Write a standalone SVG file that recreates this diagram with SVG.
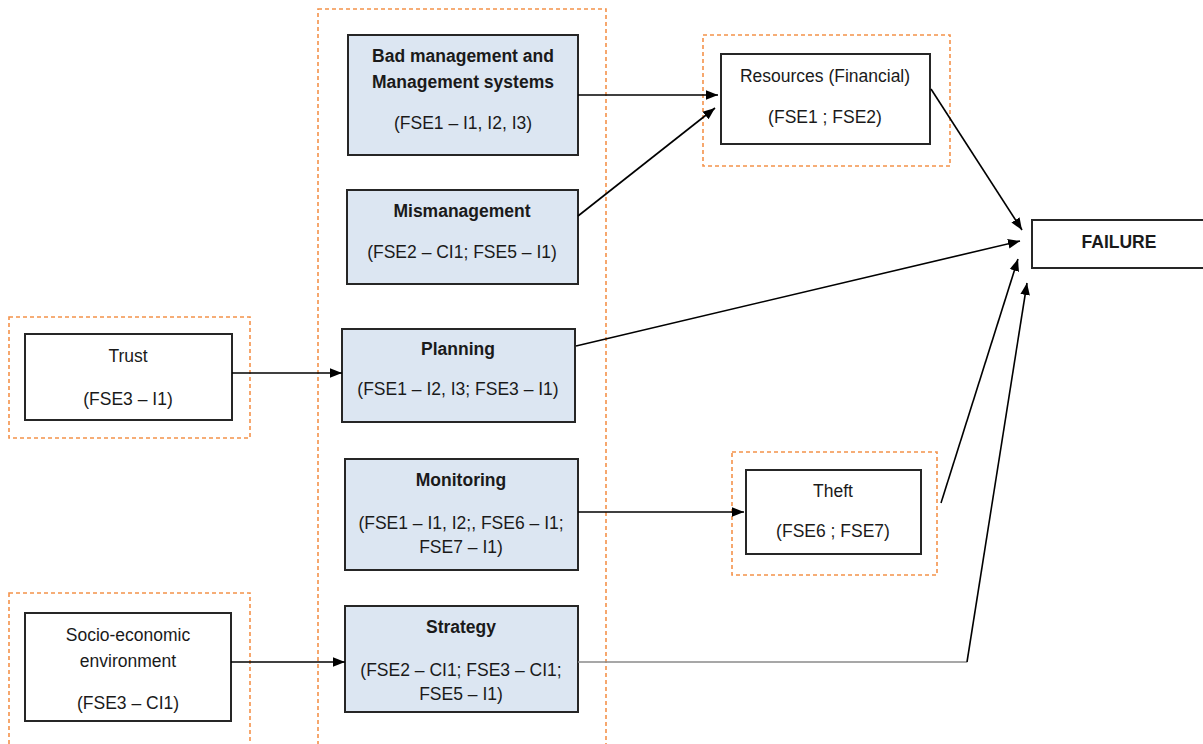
<svg xmlns="http://www.w3.org/2000/svg" width="1203" height="744" viewBox="0 0 1203 744">
<style>
.grp{fill:none;stroke:#f4924a;stroke-width:1.6;stroke-dasharray:4 3}
.blue{fill:#dce6f2;stroke:#262626;stroke-width:2}
.white{fill:#fff;stroke:#262626;stroke-width:2}
text{font-family:"Liberation Sans",Arial,sans-serif;font-size:17.5px;fill:#1a1a1a;text-anchor:middle}
.b{font-weight:bold}
.c{fill:none;stroke:#000;stroke-width:1.6}
.g{fill:none;stroke:#8a8a8a;stroke-width:1.6}
</style>
<defs>
<marker id="ah2" viewBox="0 0 10 10" refX="10" refY="5" markerWidth="12" markerHeight="12" orient="auto" markerUnits="userSpaceOnUse">
<path d="M0,1 L10,5 L0,9 z" fill="#000"/>
</marker>
</defs>
<rect width="1203" height="744" fill="#fff"/>
<g id="column"><rect class="grp" x="318" y="9" width="288" height="745"/></g>
<g id="bad">
<rect class="blue" x="348" y="35" width="230" height="120"/>
<text class="b" x="463" y="62">Bad management and</text>
<text class="b" x="463" y="88">Management systems</text>
<text x="463" y="129">(FSE1 – I1, I2, I3)</text>
</g>
<g id="mis">
<rect class="blue" x="347" y="190" width="231" height="94"/>
<text class="b" x="462" y="217">Mismanagement</text>
<text x="462" y="258">(FSE2 – CI1; FSE5 – I1)</text>
</g>
<g id="planning">
<rect class="blue" x="342" y="329" width="233" height="93"/>
<text class="b" x="458" y="355">Planning</text>
<text x="458" y="395">(FSE1 – I2, I3; FSE3 – I1)</text>
</g>
<g id="monitoring">
<rect class="blue" x="345" y="459" width="233" height="111"/>
<text class="b" x="461" y="486">Monitoring</text>
<text x="461" y="529">(FSE1 – I1, I2;, FSE6 – I1;</text>
<text x="461" y="553">FSE7 – I1)</text>
</g>
<g id="strategy">
<rect class="blue" x="345" y="606" width="233" height="106"/>
<text class="b" x="461" y="633">Strategy</text>
<text x="461" y="676">(FSE2 – CI1; FSE3 – CI1;</text>
<text x="461" y="700">FSE5 – I1)</text>
</g>
<g id="resources">
<rect class="grp" x="703" y="35" width="247" height="131"/>
<rect class="white" x="721" y="54" width="209" height="90"/>
<text x="825" y="82">Resources (Financial)</text>
<text x="825" y="123">(FSE1 ; FSE2)</text>
</g>
<g id="failure">
<rect class="white" x="1032" y="220" width="172" height="48"/>
<text class="b" x="1119" y="248">FAILURE</text>
</g>
<g id="trust">
<rect class="grp" x="9" y="317" width="241" height="121"/>
<rect class="white" x="25" y="334" width="207" height="86"/>
<text x="128" y="362">Trust</text>
<text x="128" y="405">(FSE3 – I1)</text>
</g>
<g id="theft">
<rect class="grp" x="732" y="452" width="205" height="123"/>
<rect class="white" x="746" y="470" width="175" height="84"/>
<text x="833" y="497">Theft</text>
<text x="833" y="537">(FSE6 ; FSE7)</text>
</g>
<g id="socio">
<rect class="grp" x="9" y="593" width="241" height="160"/>
<rect class="white" x="25" y="613" width="206" height="108"/>
<text x="128" y="641">Socio-economic</text>
<text x="128" y="667">environment</text>
<text x="128" y="709">(FSE3 – CI1)</text>
</g>
<g id="connectors">
<path class="c" d="M578,95 L718,95" marker-end="url(#ah2)"/>
<path class="c" d="M578,216 L715,108" marker-end="url(#ah2)"/>
<path class="c" d="M576,346 L1020,241" marker-end="url(#ah2)"/>
<path class="c" d="M931,89 L1022,230" marker-end="url(#ah2)"/>
<path class="c" d="M578,512 L744,512" marker-end="url(#ah2)"/>
<path class="c" d="M941,503 L1018,259" marker-end="url(#ah2)"/>
<path class="g" d="M578,662 L967,662"/>
<path class="c" d="M967,662 L1027,283" marker-end="url(#ah2)"/>
<path class="c" d="M232,373 L342,373" marker-end="url(#ah2)"/>
<path class="c" d="M231,662 L345,662" marker-end="url(#ah2)"/>
</g>
</svg>
